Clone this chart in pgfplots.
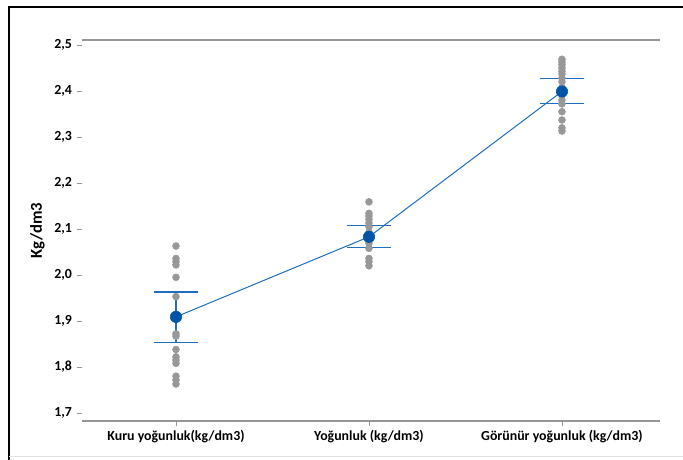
\documentclass[border=0pt]{standalone}
\usepackage{pgfplots}
\pgfplotsset{compat=1.18}
\usepackage{fontspec}
\setmainfont{Carlito}

\definecolor{dotgray}{RGB}{152,152,152}
\definecolor{meanblue}{RGB}{0,84,166}
\definecolor{cilblue}{RGB}{31,110,192}
\definecolor{axisgray}{RGB}{150,150,150}

% individual observations (x = group index, y = density)
\pgfplotstableread{
x y
0 2.063
0 2.036
0 2.029
0 2.022
0 1.995
0 1.953
0 1.910
0 1.872
0 1.867
0 1.838
0 1.822
0 1.815
0 1.808
0 1.780
0 1.772
0 1.763
}\kuru
\pgfplotstableread{
x y
1 2.159
1 2.134
1 2.128
1 2.121
1 2.113
1 2.105
1 2.093
1 2.085
1 2.080
1 2.069
1 2.058
1 2.036
1 2.029
1 2.020
}\yogun
\pgfplotstableread{
x y
2 2.469
2 2.463
2 2.457
2 2.450
2 2.443
2 2.437
2 2.428
2 2.420
2 2.407
2 2.391
2 2.380
2 2.372
2 2.355
2 2.337
2 2.320
2 2.313
}\gorunur
% group means with 95% confidence limits
\pgfplotstableread{
x mean lo hi
0 1.909 1.853 1.963
1 2.083 2.060 2.107
2 2.399 2.372 2.428
}\means

\begin{document}
\begin{tikzpicture}[x=1pt,y=1pt]
\useasboundingbox (0,0) rectangle (512.25,345);
\begin{axis}[
  at={(61.5pt,29.25pt)}, anchor=south west,
  scale only axis, width=433.5pt, height=285.75pt,
  xmin=-0.487, xmax=2.508,
  ymin=1.6826, ymax=2.5109,
  separate axis lines,
  x axis line style={axisgray, line width=0.8pt},
  y axis line style={draw=none},
  xtick={0,1,2},
  xticklabels={Kuru yoğunluk(kg/dm3), Yoğunluk (kg/dm3), Görünür yoğunluk (kg/dm3)},
  ytick={1.7,1.8,...,2.5},
  xtick pos=lower, ytick pos=left,
  tick align=outside,
  major tick length=3.5pt,
  every tick/.style={axisgray, line width=0.6pt},
  /pgf/number format/assume math mode=true,
  /pgf/number format/.cd, use comma, fixed, fixed zerofill, precision=1,
  /pgfplots/.cd,
  ticklabel style={font=\fontsize{10.4}{12}\selectfont\bfseries, text=black},
  yticklabel style={xshift=-0.5pt},
  ylabel={Kg/dm3},
  every axis y label/.style={at={(axis description cs:-0.077,0.5)}, rotate=90, anchor=center,
    font=\fontsize{12.5}{14}\selectfont\bfseries},
  clip=false,
]
\addplot[only marks, mark=*, mark size=2.6pt, dotgray] table[x=x,y=y] {\kuru};
\addplot[only marks, mark=*, mark size=2.6pt, dotgray] table[x=x,y=y] {\yogun};
\addplot[only marks, mark=*, mark size=2.6pt, dotgray] table[x=x,y=y] {\gorunur};
% confidence interval bars
\addplot[cilblue, line width=0.8pt, forget plot] coordinates {(0,1.853) (0,1.963)};
\addplot[cilblue, line width=0.8pt, forget plot] coordinates {(1,2.060) (1,2.107)};
\addplot[cilblue, line width=0.8pt, forget plot] coordinates {(2,2.372) (2,2.428)};
\addplot[cilblue, line width=0.8pt, forget plot] coordinates {(-0.114,1.853) (0.114,1.853)};
\addplot[cilblue, line width=0.8pt, forget plot] coordinates {(-0.114,1.963) (0.114,1.963)};
\addplot[cilblue, line width=0.8pt, forget plot] coordinates {(0.886,2.060) (1.114,2.060)};
\addplot[cilblue, line width=0.8pt, forget plot] coordinates {(0.886,2.107) (1.114,2.107)};
\addplot[cilblue, line width=0.8pt, forget plot] coordinates {(1.886,2.372) (2.114,2.372)};
\addplot[cilblue, line width=0.8pt, forget plot] coordinates {(1.886,2.428) (2.114,2.428)};
% connecting line of the means and mean symbols
\addplot[cilblue, line width=0.75pt, mark=none] table[x=x,y=mean] {\means};
\addplot[only marks, mark=*, mark size=4.3pt, meanblue] table[x=x,y=mean] {\means};
\end{axis}
% outer frame
\draw[black, line width=1.5pt] (6.9,0) -- (6.9,339.6) -- (512.25,339.6);
\draw[black!12, line width=0.8pt] (6.9,2.7) -- (512.25,2.7);
\end{tikzpicture}
\end{document}
